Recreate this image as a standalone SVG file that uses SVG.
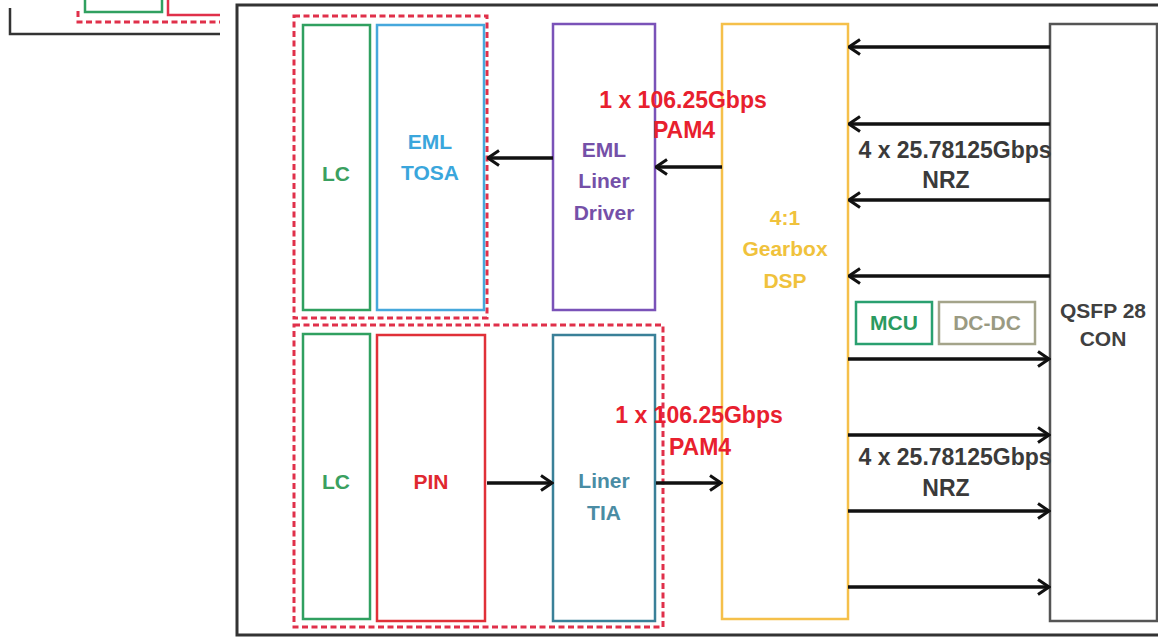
<svg xmlns="http://www.w3.org/2000/svg" width="1158" height="638" viewBox="0 0 1158 638">
<defs>
<style>
text{font-family:"Liberation Sans",Arial,sans-serif;font-weight:bold;text-anchor:middle}
.box{fill:#fff;stroke-width:2.5}
.dash{fill:none;stroke:#e0304a;stroke-width:3;stroke-dasharray:6 3.5}
.conn{stroke:#111;stroke-width:3.5;fill:none;marker-end:url(#arr)}
.lbl{font-size:21px}
.rate{font-size:23px;fill:#e8202e}
.nrz{font-size:23px;fill:#3a3a3a}
</style>
<marker id="arr" viewBox="0 0 14 18" refX="12.5" refY="9" markerWidth="14" markerHeight="18" markerUnits="userSpaceOnUse" orient="auto">
<path d="M1.5,1.5 L12.5,9 L1.5,16.5" fill="none" stroke="#111" stroke-width="3"/>
</marker>
</defs>
<rect width="1158" height="638" fill="#fff"/>

<g id="fragment">
<polyline points="10,8 10,34 220,34" fill="none" stroke="#333" stroke-width="2.5"/>
<polyline points="85,0 85,12 162,12 162,0" fill="none" stroke="#30a060" stroke-width="2.5"/>
<polyline points="168,0 168,15 220,15" fill="none" stroke="#e0304a" stroke-width="2.5"/>
<polyline points="78,11 78,22 220,22" class="dash"/>
</g>

<g id="frame">
<polyline points="1158,5 237,5 237,635 1158,635" fill="none" stroke="#333" stroke-width="3"/>
</g>

<g id="tx-group">
<rect x="294" y="16" width="193" height="302" class="dash"/>
</g>
<g id="rx-group">
<rect x="294" y="325" width="369" height="302" class="dash"/>
</g>

<g id="lc-tx">
<rect x="303" y="25" width="67" height="285" class="box" stroke="#30a060"/>
<text x="336" y="181" class="lbl" fill="#3aa060">LC</text>
</g>
<g id="eml-tosa">
<rect x="377" y="25" width="107" height="285" class="box" stroke="#46a8dc"/>
<text x="430" y="149" class="lbl" fill="#3aa6dc">EML</text>
<text x="430" y="180" class="lbl" fill="#3aa6dc">TOSA</text>
</g>
<g id="eml-driver">
<rect x="553" y="24" width="102" height="286" class="box" stroke="#7a52b8"/>
<text x="604" y="157" class="lbl" fill="#7550a8">EML</text>
<text x="604" y="188" class="lbl" fill="#7550a8">Liner</text>
<text x="604" y="220" class="lbl" fill="#7550a8">Driver</text>
</g>
<g id="gearbox">
<rect x="722" y="24" width="126" height="595" class="box" stroke="#f5c04a"/>
<text x="785" y="225" class="lbl" fill="#f0c23c">4:1</text>
<text x="785" y="256" class="lbl" fill="#f0c23c">Gearbox</text>
<text x="785" y="288" class="lbl" fill="#f0c23c">DSP</text>
</g>
<g id="lc-rx">
<rect x="303" y="334" width="67" height="285" class="box" stroke="#30a060"/>
<text x="336" y="489" class="lbl" fill="#3aa060">LC</text>
</g>
<g id="pin">
<rect x="377" y="335" width="108" height="286" class="box" stroke="#e03038"/>
<text x="431" y="489" class="lbl" fill="#e02830">PIN</text>
</g>
<g id="tia">
<rect x="553" y="335" width="102" height="286" class="box" stroke="#3a8098"/>
<text x="604" y="488" class="lbl" fill="#4a8ca4">Liner</text>
<text x="604" y="520" class="lbl" fill="#4a8ca4">TIA</text>
</g>
<g id="mcu">
<rect x="856" y="302" width="76" height="42" class="box" stroke="#2aa070"/>
<text x="894" y="330" class="lbl" fill="#2a9a60">MCU</text>
</g>
<g id="dcdc">
<rect x="939" y="302" width="96" height="42" class="box" stroke="#a4a48a"/>
<text x="987" y="330" class="lbl" fill="#9a9a82">DC-DC</text>
</g>
<g id="qsfp">
<rect x="1050" y="24" width="107" height="597" class="box" stroke="#555"/>
<text x="1103" y="318" class="lbl" fill="#404040">QSFP 28</text>
<text x="1103" y="346" class="lbl" fill="#404040">CON</text>
</g>

<g id="connectors">
<line x1="553" y1="158" x2="488" y2="158" class="conn"/>
<line x1="722" y1="167" x2="656" y2="167" class="conn"/>
<line x1="1050" y1="47" x2="849" y2="47" class="conn"/>
<line x1="1050" y1="124" x2="849" y2="124" class="conn"/>
<line x1="1050" y1="200" x2="849" y2="200" class="conn"/>
<line x1="1050" y1="276" x2="849" y2="276" class="conn"/>
<line x1="848" y1="359" x2="1049" y2="359" class="conn"/>
<line x1="848" y1="435" x2="1049" y2="435" class="conn"/>
<line x1="848" y1="511" x2="1049" y2="511" class="conn"/>
<line x1="848" y1="587" x2="1049" y2="587" class="conn"/>
<line x1="487" y1="483" x2="552" y2="483" class="conn"/>
<line x1="656" y1="483" x2="721" y2="483" class="conn"/>
</g>

<g id="labels">
<text x="683" y="108" class="rate">1 x 106.25Gbps</text>
<text x="684" y="138" class="rate">PAM4</text>
<text x="699" y="423" class="rate">1 x 106.25Gbps</text>
<text x="700" y="455" class="rate">PAM4</text>
<text x="955" y="158" class="nrz">4 x 25.78125Gbps</text>
<text x="946" y="188" class="nrz">NRZ</text>
<text x="955" y="465" class="nrz">4 x 25.78125Gbps</text>
<text x="946" y="496" class="nrz">NRZ</text>
</g>
</svg>
